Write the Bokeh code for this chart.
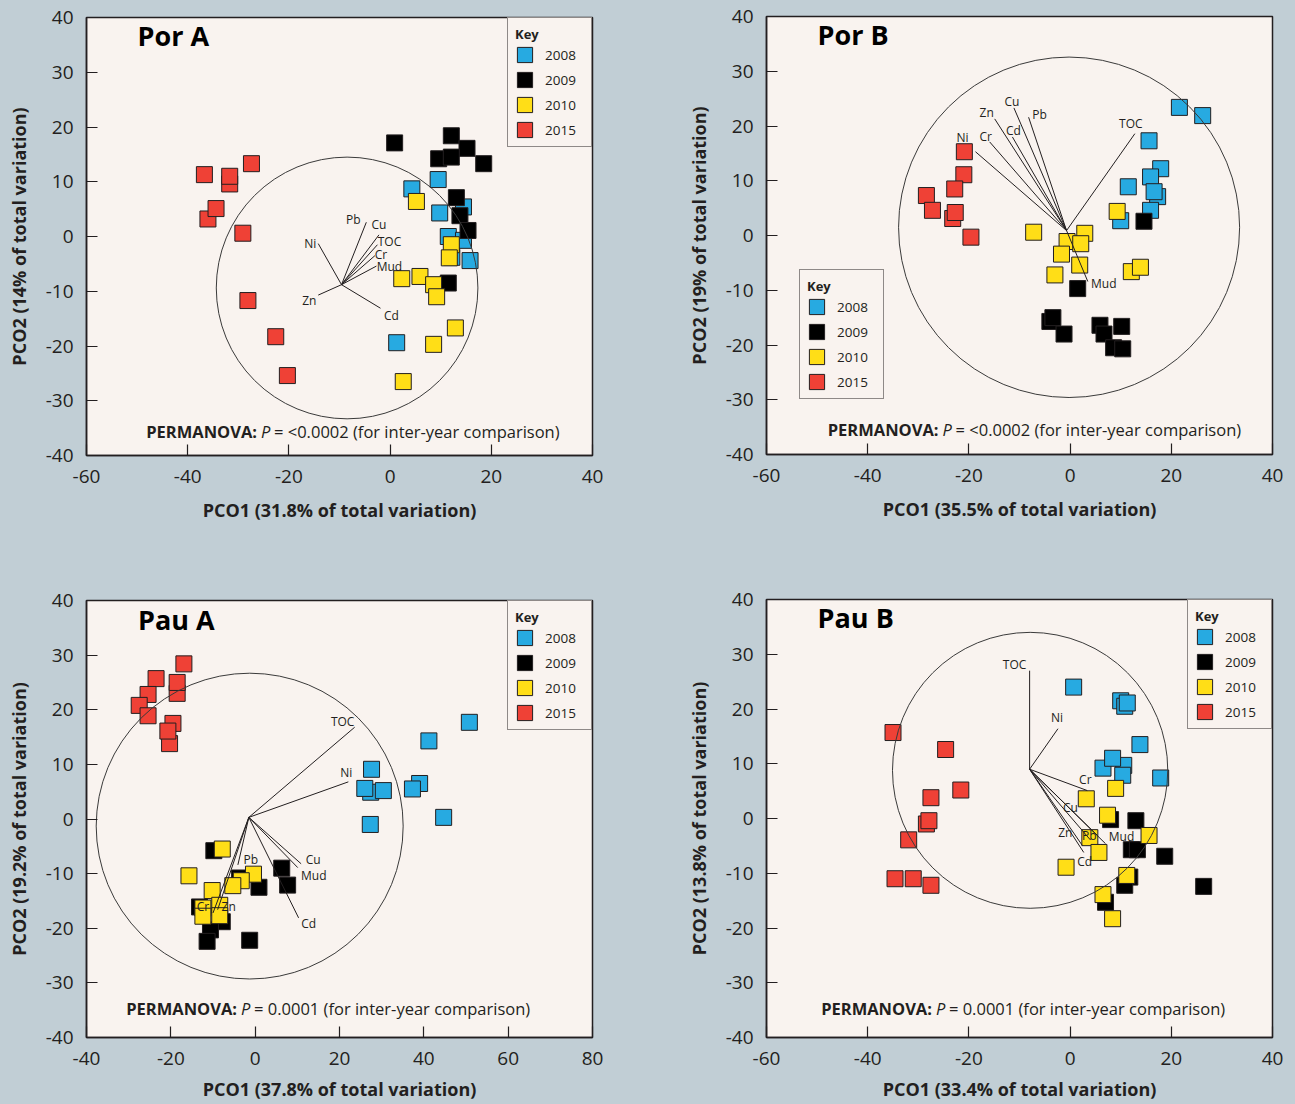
from bokeh.plotting import figure
from bokeh.layouts import row, column
from bokeh.models import FixedTicker, Label, ColumnDataSource, GlobalInlineStyleSheet
from bokeh.embed import file_html
from bokeh.resources import INLINE
from bokeh.core.properties import value

# ---------------- data ----------------
YEARS = ["2008", "2009", "2010", "2015"]

# Por A
por_a_2008_x = [9.5, 4.3, 9.8, 14.5, 11.5, 14.5, 15.8, 1.3, 12.2]
por_a_2008_y = [10.4, 8.7, 4.3, 5.4, 0.0, -0.7, -4.4, -19.4, -3.8]
por_a_2009_x = [0.9, 12.1, 15.2, 9.6, 12.1, 18.5, 13.1, 13.8, 15.4, 11.5]
por_a_2009_y = [17.1, 18.4, 16.1, 14.2, 14.5, 13.3, 7.1, 3.8, 1.1, -8.5]
por_a_2010_x = [5.2, 12.1, 11.7, 2.3, 5.9, 8.6, 9.2, 12.9, 8.6, 2.6]
por_a_2010_y = [6.4, -1.5, -3.9, -7.7, -7.3, -8.8, -11.0, -16.7, -19.7, -26.5]
por_a_2015_x = [-36.7, -31.7, -31.7, -27.4, -36.0, -34.4, -29.1, -28.1, -22.6, -20.3]
por_a_2015_y = [11.3, 9.6, 11.0, 13.3, 3.2, 5.1, 0.6, -11.7, -18.3, -25.4]

# Por B
por_b_2008_x = [21.6, 26.2, 15.6, 17.9, 15.9, 11.5, 17.3, 16.6, 15.9, 10.0]
por_b_2008_y = [23.4, 21.9, 17.3, 12.2, 10.7, 8.9, 7.1, 8.0, 4.6, 2.7]
por_b_2009_x = [14.6, 1.5, -4.0, -3.4, -1.2, 5.9, 10.2, 6.7, 8.6, 10.4]
por_b_2009_y = [2.6, -9.7, -15.7, -15.0, -18.0, -16.4, -16.6, -18.0, -20.5, -20.7]
por_b_2010_x = [9.3, -7.2, 2.9, -0.6, 2.1, -1.7, 1.9, -3.0, 12.1, 13.9]
por_b_2010_y = [4.4, 0.6, 0.4, -1.1, -1.5, -3.4, -5.4, -7.2, -6.6, -5.8]
por_b_2015_x = [-20.9, -21.0, -22.8, -28.4, -27.2, -23.2, -22.7, -19.6]
por_b_2015_y = [15.3, 11.1, 8.5, 7.3, 4.6, 3.1, 4.2, -0.3]

# Pau A
pau_a_2008_x = [50.8, 41.2, 27.6, 27.4, 26.0, 30.4, 39.0, 37.3, 44.7, 27.3]
pau_a_2008_y = [17.7, 14.3, 9.1, 4.9, 5.6, 5.2, 6.5, 5.5, 0.3, -1.0]
pau_a_2009_x = [-9.8, -3.7, 0.9, 6.3, 7.7, -13.2, -7.8, -10.6, -11.4, -1.3]
pau_a_2009_y = [-5.8, -10.8, -12.5, -9.0, -12.1, -16.1, -18.8, -20.3, -22.4, -22.2]
pau_a_2010_x = [-7.8, -15.7, -0.4, -3.3, -5.3, -10.2, -12.4, -8.4, -12.4, -8.4]
pau_a_2010_y = [-5.5, -10.4, -10.1, -11.3, -12.2, -13.1, -16.3, -15.8, -17.8, -17.7]
pau_a_2015_x = [-16.9, -23.5, -18.5, -18.5, -25.4, -27.5, -25.4, -20.3, -19.5, -20.7]
pau_a_2015_y = [28.4, 25.7, 23.0, 25.0, 22.8, 20.8, 18.9, 13.8, 17.5, 16.1]

# Pau B
pau_b_2008_x = [0.7, 10.0, 10.8, 11.3, 13.8, 10.6, 6.5, 8.4, 10.4, 17.9]
pau_b_2008_y = [24.0, 21.5, 20.5, 21.1, 13.5, 9.7, 9.2, 11.0, 7.9, 7.4]
pau_b_2009_x = [8.0, 13.0, 12.1, 13.3, 18.7, 11.8, 10.8, 26.4, 7.0]
pau_b_2009_y = [-0.2, -0.4, -5.7, -5.7, -6.9, -10.7, -12.2, -12.4, -15.3]
pau_b_2010_x = [9.0, 3.2, 7.4, 15.6, 3.9, 5.7, -0.8, 11.2, 6.5, 8.4]
pau_b_2010_y = [5.5, 3.6, 0.6, -3.1, -3.5, -6.2, -8.9, -10.4, -13.9, -18.3]
pau_b_2015_x = [-35.0, -24.6, -21.6, -27.5, -28.4, -27.9, -31.9, -34.6, -31.0, -27.5]
pau_b_2015_y = [15.7, 12.6, 5.2, 3.8, -1.0, -0.4, -3.9, -11.0, -11.0, -12.2]

# Vectors (origin, endpoints)
por_a_vec_names = ["Ni", "Pb", "Cu", "TOC", "Cr", "Mud", "Zn", "Cd"]
por_a_vec_origin = (-9.6, -8.8)
por_a_vec_x = [-14.2, -4.7, -2.2, -2.5, -3.0, -2.7, -14.2, -1.9]
por_a_vec_y = [-1.3, 2.6, 0.3, -1.5, -3.5, -5.4, -10.7, -13.1]

por_b_vec_names = ["Ni", "Cr", "Zn", "Cd", "Cu", "Pb", "TOC", "Mud"]
por_b_vec_origin = (-0.7, 0.9)
por_b_vec_x = [-18.7, -15.9, -14.9, -11.4, -11.1, -8.2, 12.8, 3.5]
por_b_vec_y = [15.3, 17.1, 21.3, 18.0, 23.3, 21.6, 18.6, -8.4]

pau_a_vec_names = ["TOC", "Ni", "Cu", "Mud", "Cd", "Pb", "Cr", "Zn"]
pau_a_vec_origin = (-1.5, 0.3)
pau_a_vec_x = [23.6, 22.1, 10.9, 10.1, 10.3, -4.1, -10.0, -8.9]
pau_a_vec_y = [16.8, 6.8, -8.2, -8.9, -18.1, -8.4, -17.2, -16.6]

pau_b_vec_names = ["TOC", "Ni", "Cr", "Cu", "Zn", "Pb", "Mud", "Cd"]
pau_b_vec_origin = (-8.0, 9.0)
pau_b_vec_x = [-8.0, -2.4, 3.4, 5.4, 2.4, 4.0, 7.0, 2.7]
pau_b_vec_y = [27.0, 16.4, 5.1, -3.1, -4.9, -3.9, -4.6, -6.2]

# correlation circles: centre x, centre y, radius (x units), radius (y units)
por_a_circle = (-8.5, -9.4, 25.85, 23.9)
por_b_circle = (-0.2, 1.5, 33.7, 31.1)
pau_a_circle = (-1.3, -1.3, 36.4, 28.0)
pau_b_circle = (-7.9, 8.8, 27.2, 25.2)

titles = ["Por A", "Por B", "Pau A", "Pau B"]
x_labels = ["PCO1 (31.8% of total variation)", "PCO1 (35.5% of total variation)",
            "PCO1 (37.8% of total variation)", "PCO1 (33.4% of total variation)"]
y_labels = ["PCO2 (14% of total variation)", "PCO2 (19% of total variation)",
            "PCO2 (19.2% of total variation)", "PCO2 (13.8% of total variation)"]
perm_values = ["= <0.0002 (for inter-year comparison)", "= <0.0002 (for inter-year comparison)",
               "= 0.0001 (for inter-year comparison)", "= 0.0001 (for inter-year comparison)"]

x_ticks_por = [-60, -40, -20, 0, 20, 40]
x_ticks_pau_a = [-40, -20, 0, 20, 40, 60, 80]
y_ticks = [-40, -30, -20, -10, 0, 10, 20, 30, 40]

# ---------------- style ----------------
FONT = "Open Sans"
INK = "#231f20"
OUTER = "#c1ced5"
INNER = "#f9f3ef"
COLORS = {"2008": "#27aae1", "2009": "#000000", "2010": "#ffde17", "2015": "#ef4136"}

# per-label offsets of vector labels (px)
por_a_lab_dx = [-8, -13, 0, 12, 6, 13, -9, 11]
por_a_lab_dy = [0, -3, -10, -3, -1, 0, 5, 7]
por_b_lab_dx = [-13, -4, -8, 1, -2, 11, -4, 16]
por_b_lab_dy = [-14, -5, -6, -6, -6, -3, -10, 2]
pau_a_lab_dx = [-12, -2, 12, 16, 10, 13, -10, 11]
pau_a_lab_dy = [-6, -9, -4, 8, 6, -5, -6, -3]
pau_b_lab_dx = [-15, -1, -2, -27, -17, -1, 16, 1]
pau_b_lab_dy = [-6, -11, -11, -28, -13, -4, -7, 9]


def make_panel(idx, pts, vec_names, vec_origin, vec_x, vec_y, lab_dx, lab_dy,
               circle, x_range, x_ticks, title_xy, perm_xy, legend_loc,
               width, height, borders, x_label_standoff):
    left, right, top, bottom = borders
    p = figure(width=width, height=height, x_range=x_range, y_range=(-40, 40),
               output_backend="svg", toolbar_location=None, title=None,
               min_border_left=left, min_border_right=right,
               min_border_top=top, min_border_bottom=bottom)
    p.border_fill_color = OUTER
    p.background_fill_color = INNER
    p.outline_line_color = INK
    p.outline_line_width = 1.5
    p.xgrid.visible = False
    p.ygrid.visible = False

    for ax in (p.xaxis[0], p.yaxis[0]):
        ax.major_tick_in = 11
        ax.major_tick_out = 0
        ax.minor_tick_line_color = None
        ax.major_tick_line_color = INK
        ax.major_tick_line_width = 1.2
        ax.axis_line_color = INK
        ax.axis_line_width = 1.5
        ax.major_label_text_font = FONT
        ax.major_label_text_font_size = "19px"
        ax.major_label_text_color = INK
        ax.axis_label_text_font = FONT
        ax.axis_label_text_font_size = "18px"
        ax.axis_label_text_font_style = "bold"
        ax.axis_label_text_color = INK
    p.xaxis.ticker = FixedTicker(ticks=x_ticks)
    p.yaxis.ticker = FixedTicker(ticks=y_ticks)
    p.xaxis.major_label_overrides = {t: str(t) for t in x_ticks}
    p.yaxis.major_label_overrides = {t: str(t) for t in y_ticks}
    p.xaxis.major_label_standoff = 14
    p.yaxis.major_label_standoff = 13
    p.xaxis.axis_label_standoff = x_label_standoff
    p.yaxis.axis_label_standoff = 12
    p.xaxis.axis_label = x_labels[idx]
    p.yaxis.axis_label = y_labels[idx]

    # points (square markers of fixed screen size)
    for yr in YEARS:
        xs, ys = pts[yr]
        src = ColumnDataSource(dict(x=xs, y=ys))
        p.rect("x", "y", source=src, width=16, height=16,
               width_units="screen", height_units="screen",
               fill_color=COLORS[yr], line_color=INK, line_width=1,
               legend_label=yr)

    # correlation circle
    cx, cy, rx, ry = circle
    p.ellipse(x=[cx], y=[cy], width=[2 * rx], height=[2 * ry],
              fill_color=None, line_color="#3a3a3a", line_width=1)

    # vectors
    n = len(vec_names)
    vsrc = ColumnDataSource(dict(x0=[vec_origin[0]] * n, y0=[vec_origin[1]] * n,
                                 x1=vec_x, y1=vec_y, name=vec_names,
                                 dx=lab_dx, dy=lab_dy))
    p.segment("x0", "y0", "x1", "y1", source=vsrc, line_color=INK, line_width=1)
    p.text("x1", "y1", text="name", source=vsrc, x_offset="dx", y_offset="dy",
           text_align="center", text_baseline="middle",
           text_font=value(FONT), text_font_size="12px", text_color=INK)

    # panel title
    p.add_layout(Label(x=title_xy[0], y=title_xy[1], text=titles[idx],
                       text_font=FONT, text_font_size="27px",
                       text_font_style="bold", text_color="#000000",
                       text_align="left", text_baseline="middle"))

    # PERMANOVA line
    px, py = perm_xy
    p.add_layout(Label(x=px, y=py, text="PERMANOVA:", text_font=FONT,
                       text_font_size="16.5px", text_font_style="bold",
                       text_color=INK, text_align="right", text_baseline="middle"))
    p.add_layout(Label(x=px, y=py, x_offset=4, text="P", text_font=FONT,
                       text_font_size="16.5px", text_font_style="italic",
                       text_color=INK, text_align="left", text_baseline="middle"))
    p.add_layout(Label(x=px, y=py, x_offset=17, text=perm_values[idx], text_font=FONT,
                       text_font_size="16.5px", text_color=INK,
                       text_align="left", text_baseline="middle"))

    # legend
    lg = p.legend[0]
    lg.location = legend_loc
    lg.title = "Key"
    lg.title_text_font = FONT
    lg.title_text_font_size = "13px"
    lg.title_text_font_style = "bold"
    lg.title_text_color = INK
    lg.title_standoff = 2
    lg.label_text_font = FONT
    lg.label_text_font_size = "13.5px"
    lg.label_text_color = INK
    lg.glyph_width = 19
    lg.glyph_height = 19
    lg.label_height = 19
    lg.label_width = 39
    lg.label_standoff = 11
    lg.spacing = 6
    lg.padding = 7
    lg.margin = 0
    lg.border_line_color = INK
    lg.border_line_width = 1.2
    lg.background_fill_color = INNER
    lg.background_fill_alpha = 1
    return p


p1 = make_panel(0,
                {"2008": (por_a_2008_x, por_a_2008_y), "2009": (por_a_2009_x, por_a_2009_y),
                 "2010": (por_a_2010_x, por_a_2010_y), "2015": (por_a_2015_x, por_a_2015_y)},
                por_a_vec_names, por_a_vec_origin, por_a_vec_x, por_a_vec_y,
                por_a_lab_dx, por_a_lab_dy, por_a_circle, (-60, 40), x_ticks_por,
                (-49.9, 36.7), (-26.3, -35.6), "top_right",
                676, 527, (86, 84, 17, 72), 12)
p2 = make_panel(1,
                {"2008": (por_b_2008_x, por_b_2008_y), "2009": (por_b_2009_x, por_b_2009_y),
                 "2010": (por_b_2010_x, por_b_2010_y), "2015": (por_b_2015_x, por_b_2015_y)},
                por_b_vec_names, por_b_vec_origin, por_b_vec_x, por_b_vec_y,
                por_b_lab_dx, por_b_lab_dy, por_b_circle, (-60, 40), x_ticks_por,
                (-49.9, 36.7), (-26.0, -35.5), (33, 55),
                618, 526, (90, 22, 16, 72), 12)
p3 = make_panel(2,
                {"2008": (pau_a_2008_x, pau_a_2008_y), "2009": (pau_a_2009_x, pau_a_2009_y),
                 "2010": (pau_a_2010_x, pau_a_2010_y), "2015": (pau_a_2015_x, pau_a_2015_y)},
                pau_a_vec_names, pau_a_vec_origin, pau_a_vec_x, pau_a_vec_y,
                pau_a_lab_dx, pau_a_lab_dy, pau_a_circle, (-40, 80), x_ticks_pau_a,
                (-27.8, 36.5), (-4.3, -34.6), "top_right",
                676, 576, (86, 84, 73, 65), 9)
p4 = make_panel(3,
                {"2008": (pau_b_2008_x, pau_b_2008_y), "2009": (pau_b_2009_x, pau_b_2009_y),
                 "2010": (pau_b_2010_x, pau_b_2010_y), "2015": (pau_b_2015_x, pau_b_2015_y)},
                pau_b_vec_names, pau_b_vec_origin, pau_b_vec_x, pau_b_vec_y,
                pau_b_lab_dx, pau_b_lab_dy, pau_b_circle, (-60, 40), x_ticks_por,
                (-49.9, 36.8), (-27.3, -34.7), "top_right",
                618, 577, (90, 22, 73, 66), 9)

layout = row(column(p1, p3), column(p2, p4))
layout.stylesheets = [GlobalInlineStyleSheet(css="body { background-color: #c1ced5; }")]

open("out.html", "w").write(file_html(layout, INLINE))
